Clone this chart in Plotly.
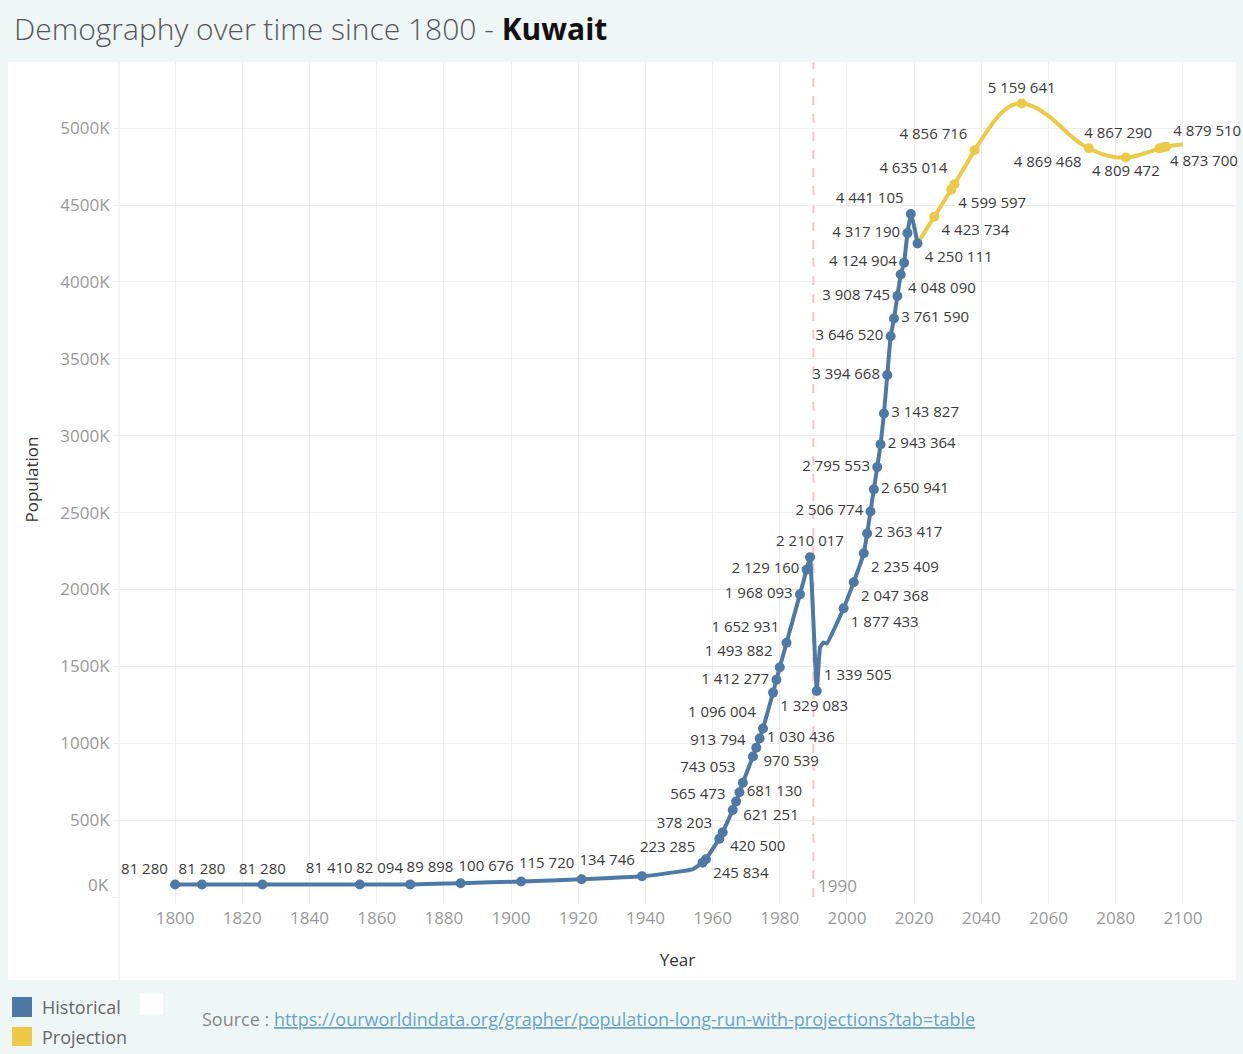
import plotly.graph_objects as go

# ---------------- data ----------------
hist_years = [1800, 1808, 1826, 1855, 1870, 1885, 1903, 1921, 1939, 1950, 1954, 1957, 1958,
              1962, 1963, 1966, 1967, 1968, 1969, 1972, 1973, 1974, 1975, 1978, 1979, 1980, 1982,
              1986, 1988, 1989, 1991, 1992, 1993, 1994, 1999, 2002, 2005, 2006, 2007, 2008, 2009,
              2010, 2011, 2012, 2013, 2014, 2015, 2016, 2017, 2018, 2019, 2020, 2021]
hist_pop = [81280, 81280, 81280, 81410, 82094, 89898, 100676, 115720, 134746, 165000, 180000, 223285, 245834,
            378203, 420500, 565473, 621251, 681130, 743053, 913794, 970539, 1030436, 1096004, 1329083,
            1412277, 1493882, 1652931, 1968093, 2129160, 2210017, 1339505, 1625000, 1655000, 1648000,
            1877433, 2047368, 2235409, 2363417, 2506774, 2650941, 2795553, 2943364, 3143827, 3394668,
            3646520, 3761590, 3908745, 4048090, 4124904, 4317190, 4441105, 4360444, 4250111]
hist_label_pos = ["top left", "top center", "top center", "top left", "top left", "top left", "top left",
                  "top left", "top left", "", "", "top left", "bottom right",
                  "top left", "bottom right", "top left", "bottom right", "middle right", "top left",
                  "top left", "bottom right", "middle right", "top left", "bottom right", "middle left",
                  "top left", "top left", "middle left", "middle left", "top center", "top right",
                  "", "", "", "bottom right", "bottom right", "bottom right", "middle right", "middle left",
                  "middle right", "middle left", "middle right", "middle right", "middle left", "middle left",
                  "middle right", "middle left", "bottom right", "middle left", "middle left", "top left",
                  "", "bottom right"]

proj_years = [2021, 2026, 2031, 2032, 2038, 2040, 2042, 2044, 2046, 2048, 2050, 2052, 2054, 2056, 2058,
              2060, 2062, 2064, 2066, 2068, 2070, 2072, 2074, 2076, 2078, 2080, 2083, 2085, 2087, 2089,
              2091, 2093, 2094, 2095, 2097, 2100]
proj_pop = [4250111, 4423734, 4599597, 4635014, 4856716, 4925000, 4990000, 5050000, 5100000, 5135000,
            5155000, 5159641, 5152000, 5135000, 5110000, 5078000, 5043000, 5003000, 4962000, 4925000,
            4893000, 4869468, 4848000, 4831000, 4819000, 4811000, 4809472, 4814000, 4825000, 4839000,
            4853000, 4867290, 4873700, 4879510, 4887000, 4893000]
proj_label_pos = ["", "bottom right", "bottom right", "top left", "top left", "", "", "", "", "", "",
                  "top center", "", "", "", "", "", "", "", "", "", "bottom left", "", "", "", "",
                  "bottom center", "", "", "", "", "top left", "bottom right", "top right", "", ""]

x_ticks = list(range(1800, 2101, 20))
y_ticks = list(range(0, 5000001, 500000))
y_ticktext = ["" if v == 0 else f"{v // 1000}K" for v in y_ticks]
ref_year = 1990

BLUE = "#4e79a7"
YELLOW = "#edc948"
BG = "#eff7f6"
FONT = "Open Sans"
LABEL_COLOR = "#3a3a3a"
TICK_COLOR = "#999999"

# ---------------- layout geometry ----------------
FIG_W, FIG_H = 1243, 1054
ML, MR, MT, MB = 119, 7, 62, 157
PW = FIG_W - ML - MR
PH = FIG_H - MT - MB


def px(x):
    return (x - ML) / PW


def py(y):
    return (MT + PH - y) / PH


def fmt(v):
    return f"{v:,}".replace(",", " ")


def build_trace(years, pops, positions, color, name):
    texts = [fmt(p) if pos else "" for p, pos in zip(pops, positions)]
    sizes = [10 if pos else 0 for pos in positions]
    tpos = [pos if pos else "top center" for pos in positions]
    return go.Scatter(
        x=years, y=pops, name=name, mode="lines+markers+text",
        line=dict(color=color, width=4, shape="spline", smoothing=0.3),
        marker=dict(color=color, size=sizes, opacity=1, line=dict(width=0)),
        text=texts, textposition=tpos,
        textfont=dict(family=FONT, size=15, color=LABEL_COLOR),
        hoverinfo="x+y", cliponaxis=False, showlegend=False,
    )


fig = go.Figure()
fig.add_trace(build_trace(proj_years, proj_pop, proj_label_pos, YELLOW, "Projection"))
fig.add_trace(build_trace(hist_years, hist_pop, hist_label_pos, BLUE, "Historical"))

shapes = [
    # white panel
    dict(type="rect", xref="paper", yref="paper", x0=px(8), x1=px(1236), y0=py(980), y1=1,
         fillcolor="white", line=dict(width=0), layer="below"),
    # pane divider
    dict(type="line", xref="paper", yref="paper", x0=0, x1=0, y0=py(980), y1=1,
         line=dict(color="#e9e9e9", width=1), layer="below"),
    # reference line
    dict(type="line", xref="x", yref="paper", x0=ref_year, x1=ref_year, y0=0, y1=1,
         line=dict(color="#f4c4c4", width=2, dash="dash"), layer="below"),
    # legend swatches
    dict(type="rect", xref="paper", yref="paper", x0=px(12), x1=px(32), y0=py(1017), y1=py(997),
         fillcolor=BLUE, line=dict(width=0)),
    dict(type="rect", xref="paper", yref="paper", x0=px(12), x1=px(32), y0=py(1046), y1=py(1027),
         fillcolor=YELLOW, line=dict(width=0)),
    dict(type="rect", xref="paper", yref="paper", x0=px(140), x1=px(163), y0=py(1015), y1=py(993),
         fillcolor="white", line=dict(width=0)),
]

annotations = [
    dict(text="0K", xref="paper", yref="y", x=0, y=0, xanchor="right", yanchor="middle",
         xshift=-8, yshift=13, showarrow=False, font=dict(family=FONT, size=17, color=TICK_COLOR)),
    dict(text=str(ref_year), xref="x", yref="y", x=ref_year, y=0, xanchor="left", yanchor="middle",
         xshift=3, yshift=12, showarrow=False, font=dict(family=FONT, size=17, color=TICK_COLOR)),
    dict(text="Historical", xref="paper", yref="paper", x=px(40), y=py(1007), xanchor="left",
         yanchor="middle", showarrow=False, font=dict(family=FONT, size=18, color="#666666")),
    dict(text="Projection", xref="paper", yref="paper", x=px(40), y=py(1037), xanchor="left",
         yanchor="middle", showarrow=False, font=dict(family=FONT, size=18, color="#666666")),
    dict(text='Source : <a href="https://ourworldindata.org/grapher/population-long-run-with-projections?tab=table" '
              'style="color:#6aa3c8"><u>https://ourworldindata.org/grapher/population-long-run-with-projections?tab=table</u></a>',
         xref="paper", yref="paper", x=px(200), y=py(1019), xanchor="left", yanchor="middle",
         showarrow=False, font=dict(family=FONT, size=18, color="#888888")),
]

fig.update_layout(
    width=FIG_W, height=FIG_H,
    margin=dict(l=ML, r=MR, t=MT, b=MB, autoexpand=False),
    paper_bgcolor=BG, plot_bgcolor="white",
    title=dict(text='Demography over time since 1800 - <span style="color:#111111"><b>Kuwait</b></span>',
               x=14 / FIG_W, xref="container", xanchor="left",
               y=1 - 29 / FIG_H, yref="container", yanchor="middle",
               font=dict(family=FONT, size=30, color="#555555", weight=300)),
    xaxis=dict(range=[1783.3, 2115.8], tickvals=x_ticks, showgrid=True, gridcolor="#eeeeee",
               gridwidth=1, zeroline=False, showline=False, ticks="outside", ticklen=6,
               tickcolor="#eeeeee", tickfont=dict(family=FONT, size=17, color=TICK_COLOR),
               title=dict(text="Year", standoff=25, font=dict(family=FONT, size=17, color="#333333"))),
    yaxis=dict(range=[0, 5430000], tickvals=y_ticks, ticktext=y_ticktext, showgrid=True,
               gridcolor="#eeeeee", gridwidth=1, zeroline=False, showline=False, ticks="outside",
               ticklen=5, tickcolor="#eeeeee", tickfont=dict(family=FONT, size=17, color=TICK_COLOR),
               title=dict(text="Population", standoff=17, font=dict(family=FONT, size=17, color="#333333"))),
    shapes=shapes, annotations=annotations, showlegend=False,
    hovermode="closest",
)

fig.write_html("out.html")
